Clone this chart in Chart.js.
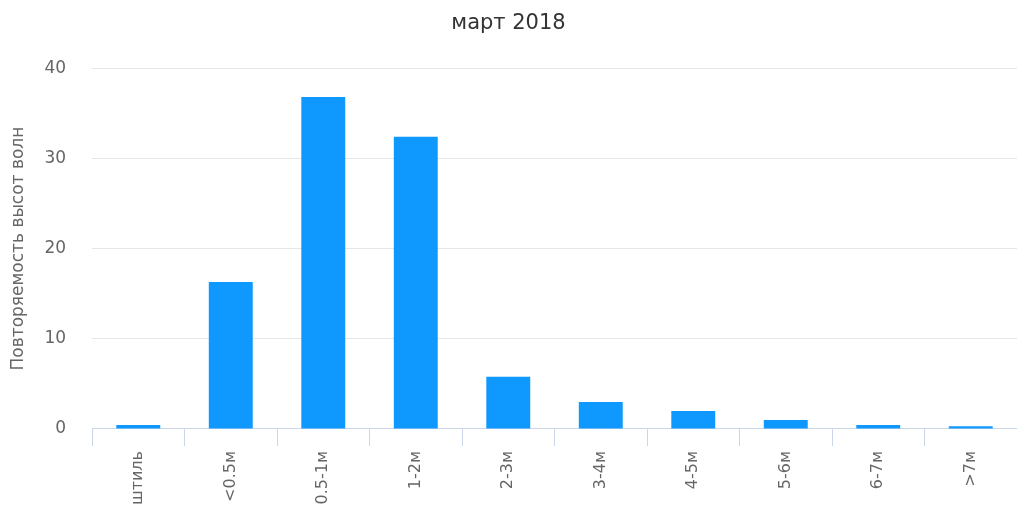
<!DOCTYPE html>
<html lang="ru">
<head>
  <meta charset="UTF-8">
  <title>март 2018</title>
  <script src="https://cdn.jsdelivr.net/npm/chart.js"></script>
  <style>
    html, body { margin: 0; padding: 0; background: #fff; overflow: hidden; }
    /* a bit taller than the window so the long rotated labels get cut off like in the original */
    #wrap { width: 1017px; height: 510px; position: relative; }
  </style>
</head>
<body>
  <div id="wrap">
    <canvas id="myChart"></canvas>
  </div>

  <script>
    // wave height classes and their frequency (%)
    const categories = ['штиль', '<0.5м', '0.5-1м', '1-2м', '2-3м', '3-4м', '4-5м', '5-6м', '6-7м', '>7м'];
    const frequency = [0.45, 16.3, 36.8, 32.4, 5.8, 3.0, 2.0, 1.0, 0.45, 0.3];
    const yTicks = [0, 10, 20, 30, 40];

    const chartTitle = 'март 2018';
    const yTitle = 'Повторяемость высот волн';

    const font = "'DejaVu Sans', Verdana, sans-serif";

    const ctx = document.getElementById('myChart').getContext('2d');
    new Chart(ctx, {
      type: 'bar',
      data: {
        labels: categories,
        datasets: [{
          data: frequency,
          backgroundColor: '#0f99ff',
          borderWidth: 0,
          barPercentage: 0.475,
          categoryPercentage: 1
        }]
      },
      options: {
        responsive: true,
        maintainAspectRatio: false,
        animation: false,
        layout: { padding: 0 },
        plugins: {
          legend: { display: false },
          tooltip: { enabled: false },
          title: {
            display: true,
            text: chartTitle,
            color: '#333333',
            font: { family: font, size: 21, weight: 'normal' },
            padding: { top: 11, bottom: 32 }
          }
        },
        scales: {
          x: {
            offset: true,
            grid: {
              offset: true,
              drawOnChartArea: false,
              drawTicks: true,
              tickLength: 17,
              color: '#ccd6eb'
            },
            border: { color: '#ccd6eb', width: 1 },
            ticks: {
              autoSkip: false,
              minRotation: 90,
              maxRotation: 90,
              padding: 5,
              color: '#666666',
              font: { family: font, size: 16 }
            }
          },
          y: {
            min: 0,
            max: 40,
            afterBuildTicks: (axis) => { axis.ticks = yTicks.map(v => ({ value: v })); },
            grid: { color: '#e6e6e6', drawTicks: false },
            border: { display: false },
            ticks: {
              padding: 26,
              color: '#666666',
              font: { family: font, size: 17 }
            },
            title: {
              display: true,
              text: yTitle,
              color: '#666666',
              font: { family: font, size: 17 },
              padding: { top: 8, bottom: -10 }
            }
          }
        }
      }
    });
  </script>
</body>
</html>
